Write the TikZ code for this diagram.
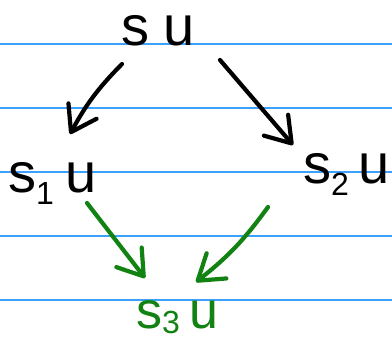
\documentclass[tikz,border=0pt]{standalone}
\usepackage{fontspec}
\setmainfont{Liberation Sans}
\usetikzlibrary{arrows.meta}
\definecolor{rule}{RGB}{60,160,255}
\definecolor{ink}{RGB}{0,0,0}
\definecolor{gink}{RGB}{18,130,18}
\begin{document}
\begin{tikzpicture}[x=1pt,y=-1pt,
  rulel/.style={draw=rule,line width=1.3pt},
  lbl/.style={inner sep=0pt,anchor=base west,font=\fontsize{56}{56}\selectfont},
  arr/.style={line width=4.2pt,line cap=round,line join=round,
    -{Straight Barb[length=24pt,width=32pt,line width=4.2pt,round]}},
  blk/.style={arr,draw=ink},
  grn/.style={arr,draw=gink}]
\useasboundingbox[fill=white] (0,0) rectangle (392,341);
\foreach \yy in {44,108,172,236,300} \draw[rulel] (0,\yy) -- (392,\yy);
\newcommand{\sub}[2][-0.22em]{\raisebox{#1}{\fontsize{32}{32}\selectfont #2}}
\node[lbl] (su) at (121,45) {s\hspace{14pt}u};
\node[lbl] (s1u) at (8,192) {s\sub{1}\hspace{12pt}u};
\node[lbl] (s2u) at (303,183) {s\sub{2}\hspace{10pt}u};
\node[lbl,text=gink,font=\fontsize{52}{52}\selectfont] (s3u) at (136,328) {s\sub[-0.1em]{3}\hspace{10pt}u};
\draw[blk] ([shift={(1,19)}]su.base west) to[bend right=8] ([shift={(62,-58)}]s1u.base west);
\draw[blk] ([shift={(99,15)}]su.base west) -- ([shift={(-10,-38)}]s2u.base west);
\draw[grn] ([shift={(79,11)}]s1u.base west) -- ([shift={(9,-50)}]s3u.base west);
\draw[grn] ([shift={(-35,24)}]s2u.base west) to[bend left=8] ([shift={(60,-46)}]s3u.base west);
\end{tikzpicture}
\end{document}
